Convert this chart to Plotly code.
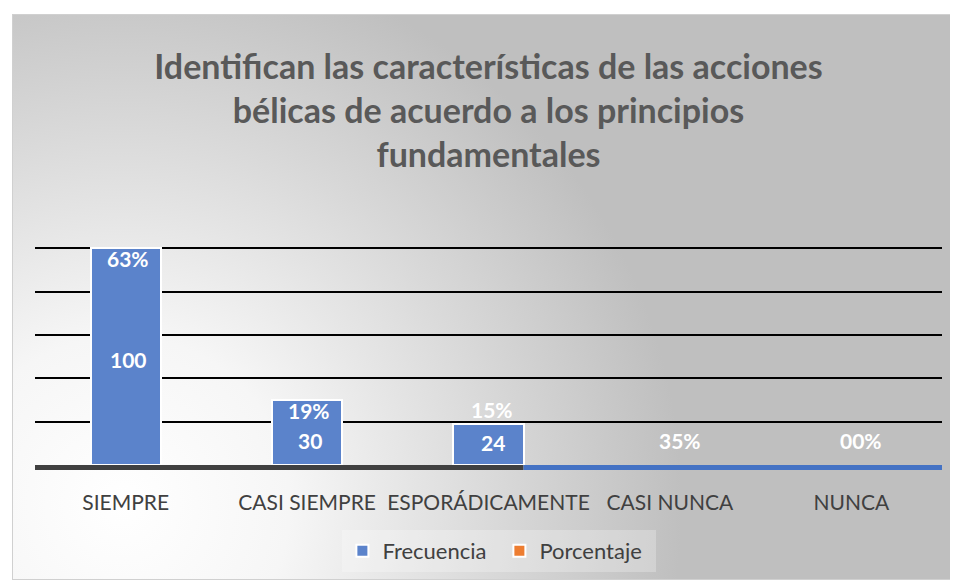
import base64
import plotly.graph_objects as go

# datos
categorias = ["SIEMPRE", "CASI SIEMPRE", "ESPORÁDICAMENTE", "CASI NUNCA", "NUNCA"]
frecuencia = [100, 30, 24, 5, 0]          # etiquetas de frecuencia
porcentaje = [63, 19, 15, 3, 0]           # etiquetas de porcentaje
altura_barra = [100, 30, 19, 0, 0]        # altura visible de cada barra

titulo = ("Identifican las características de las acciones<br>"
          "bélicas de acuerdo a los principios<br>fundamentales")

# la pagina deja 8px de margen, asi que todo va corrido 8px
W, H = 958, 580
ML, MR, MT, MB = 27, 24, 239, 123
plot_w = W - ML - MR
plot_h = H - MT - MB

# fondo con degradado radial (gris -> blanco abajo a la izquierda)
svg = """<svg xmlns='http://www.w3.org/2000/svg' width='946' height='566'>
<defs><radialGradient id='g' gradientUnits='userSpaceOnUse' cx='110' cy='490' r='560'>
<stop offset='0' stop-color='#ffffff'/><stop offset='0.3' stop-color='#f6f6f6'/>
<stop offset='1' stop-color='#bfbfbf'/></radialGradient></defs>
<rect x='0' y='0' width='946' height='566' fill='url(#g)'/>
<rect x='0.5' y='0.5' width='945' height='565' fill='none' stroke='#d0d0d0'/>
</svg>"""
fondo = "data:image/svg+xml;base64," + base64.b64encode(svg.encode()).decode()

# sin borde blanco donde no hay barra
borde = [2 if h > 0 else 0 for h in altura_barra]
# el porcentaje se apila sobre la frecuencia (casi invisible)
pct_barra = [p / 100 if h > 0 else 0 for p, h in zip(porcentaje, altura_barra)]

fig = go.Figure()
fig.add_trace(go.Bar(
    x=categorias, y=altura_barra, name="Frecuencia",
    marker=dict(color="#5b83cb", line=dict(color="white", width=borde)),
))
fig.add_trace(go.Bar(
    x=categorias, y=pct_barra, name="Porcentaje",
    marker=dict(color="#ed7d31", line=dict(color="white", width=borde)),
))

lbl_font = dict(family="Lato", size=21, color="white")
for i, cat in enumerate(categorias):
    h = altura_barra[i]
    if h >= 25:
        fig.add_annotation(x=cat, y=h, text=f"<b>{porcentaje[i]}%</b>", yanchor="top",
                           yshift=4, xshift=2, showarrow=False, font=lbl_font)
        fig.add_annotation(x=cat, y=h / 2, text=f"<b>{frecuencia[i]}</b>", yanchor="middle",
                           yshift=-8 if h < 50 else -3, xshift=3, showarrow=False, font=lbl_font)
    elif h > 0:
        fig.add_annotation(x=cat, y=h, text=f"<b>{porcentaje[i]}%</b>", yanchor="bottom",
                           yshift=0, xshift=3, showarrow=False, font=lbl_font)
        fig.add_annotation(x=cat, y=h / 2, text=f"<b>{frecuencia[i]}</b>", yanchor="middle",
                           yshift=2, xshift=4, showarrow=False, font=lbl_font)
    else:
        # sin barra: las dos etiquetas quedan superpuestas
        fig.add_annotation(x=cat, y=0, text=f"<b>{porcentaje[i]}{frecuencia[i]}%</b>",
                           yanchor="middle", yshift=25, xshift=10, showarrow=False,
                           font=lbl_font)

# linea base: gris oscuro hasta ESPORÁDICAMENTE, azul despues
ancho = 0.386
corte = (2 + ancho / 2 + 0.5) / len(categorias)
y_base = -2.5 / plot_h
fig.add_shape(type="line", xref="paper", yref="paper", x0=0, x1=corte, y0=y_base, y1=y_base,
              line=dict(color="#404040", width=5))
fig.add_shape(type="line", xref="paper", yref="paper", x0=corte, x1=1, y0=y_base, y1=y_base,
              line=dict(color="#4472c4", width=5))

fig.add_layout_image(dict(
    source=fondo, xref="paper", yref="paper",
    x=(4 - ML) / plot_w, y=(H - MB - 6) / plot_h,
    sizex=946 / plot_w, sizey=566 / plot_h,
    xanchor="left", yanchor="top", sizing="stretch", layer="below",
))

fig.update_layout(
    width=W, height=H,
    margin=dict(l=ML, r=MR, t=MT, b=MB, autoexpand=False),
    paper_bgcolor="white", plot_bgcolor="rgba(0,0,0,0)",
    barmode="stack", bargap=0.614,
    title=dict(text=f"<b>{titulo}</b>", x=0.5, xref="paper", xanchor="center",
               y=1 - 71 / H, yanchor="top",
               font=dict(family="Lato", size=34, color="#595959")),
    font=dict(family="Lato", size=21, color="#404040"),
    xaxis=dict(showgrid=False, showline=False, ticks="", tickfont=dict(size=21, color="#404040"),
               ticklabelstandoff=23),
    yaxis=dict(range=[0, 100.6], tickvals=[20, 40, 60, 80, 100], showticklabels=False,
               showgrid=True, gridcolor="black", gridwidth=2, zeroline=False, showline=False),
    legend=dict(orientation="h", x=0.512, xanchor="center", y=(H - MB - 543) / plot_h,
                yanchor="middle", bgcolor="rgba(255,255,255,0.25)",
                font=dict(size=22, color="#404040"), itemwidth=30, traceorder="normal",
                entrywidth=112, entrywidthmode="pixels"),
    showlegend=True,
)

fig.write_html("out.html")
